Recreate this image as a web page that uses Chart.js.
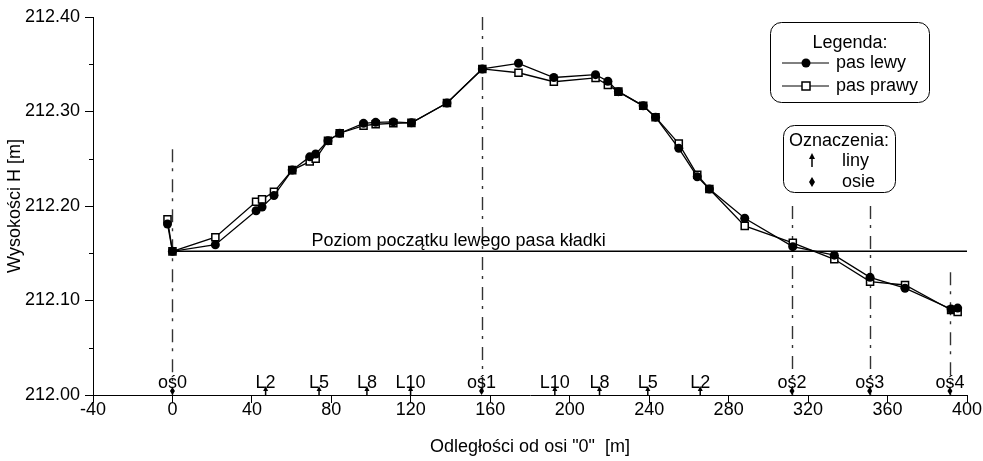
<!DOCTYPE html>
<html>
<head>
<meta charset="utf-8">
<script src="https://cdn.jsdelivr.net/npm/chart.js@4"></script>
<style>
  html, body { margin: 0; padding: 0; background: #ffffff; }
  #wrap { width: 983px; height: 461px; }
</style>
</head>
<body>
<div id="wrap"><canvas id="profil"></canvas></div>
<script>
const FONT = '"Liberation Sans", Arial, sans-serif';

// odległości od osi "0" [m]
const odleglosci = [-2.5, 0, 21.6, 42.1, 45.1, 51.1, 60.3, 69.1, 72.1, 78.3, 84.2, 96.2, 102.3, 111.2, 120.3,
    138.2, 156, 174.2, 192, 213, 219.2, 224.5, 237, 243.2, 254.9, 264.2, 270.3, 288.1, 312.3, 333.2,
    351.2, 368.8, 392, 395.3];
// wysokości H [m]
const pasLewy = [212.181, 212.152, 212.159, 212.195, 212.199, 212.211, 212.238, 212.252, 212.255, 212.269,
    212.277, 212.2875, 212.2885, 212.289, 212.288, 212.309, 212.345, 212.351, 212.336, 212.339, 212.332,
    212.321, 212.306, 212.294, 212.261, 212.231, 212.218, 212.187, 212.157, 212.148, 212.1245, 212.113,
    212.091, 212.092];
const pasPrawy = [212.186, 212.152, 212.167, 212.2045, 212.207, 212.215, 212.238, 212.247, 212.250, 212.269,
    212.277, 212.285, 212.2865, 212.2875, 212.288, 212.309, 212.345, 212.341, 212.3315, 212.3355, 212.328,
    212.321, 212.306, 212.294, 212.266, 212.233, 212.218, 212.179, 212.161, 212.1436, 212.12, 212.1164,
    212.090, 212.088];

// osie i liny
const osieX = [0, 155.6, 311.9, 351, 391.4];
const osieNazwy = ['oś0', 'oś1', 'oś2', 'oś3', 'oś4'];
const osieGora = [212.26, 212.40, 212.20, 212.20, 212.13];
const linyX = [46.9, 73.8, 97.9, 119.9, 192.5, 215, 239.3, 265.7];
const linyNazwy = ['L2', 'L5', 'L8', 'L10', 'L10', 'L8', 'L5', 'L2'];
const poziomLewego = 212.152;
const poziomOd = 0, poziomDo = 400, poziomTekstX = 70;
const yMinor = [212.05, 212.15, 212.25, 212.35];

const punkty = (xs, ys) => xs.map((x, i) => ({ x: x, y: ys[i] }));

const adnotacje = {
    id: 'adnotacje',
    beforeDatasetsDraw(chart) {
        const ctx = chart.ctx;
        const xs = chart.scales.x, ys = chart.scales.y;
        const y0 = ys.getPixelForValue(212.0);
        ctx.save();

        // osie - linie kreska-kropka
        ctx.strokeStyle = '#333';
        ctx.lineWidth = 1.4;
        ctx.setLineDash([13, 6, 3, 8]);
        osieX.forEach((x, i) => {
            const px = Math.round(xs.getPixelForValue(x)) + 0.5;
            ctx.beginPath();
            ctx.moveTo(px, ys.getPixelForValue(osieGora[i]));
            ctx.lineTo(px, y0);
            ctx.stroke();
        });
        ctx.setLineDash([]);

        // poziom początku lewego pasa
        const py = ys.getPixelForValue(poziomLewego);
        ctx.strokeStyle = '#000';
        ctx.lineWidth = 1.5;
        ctx.beginPath();
        ctx.moveTo(xs.getPixelForValue(poziomOd), py);
        ctx.lineTo(xs.getPixelForValue(poziomDo), py);
        ctx.stroke();
        ctx.fillStyle = '#000';
        ctx.font = '18px ' + FONT;
        ctx.textAlign = 'left';
        ctx.textBaseline = 'alphabetic';
        ctx.fillText('Poziom początku lewego pasa kładki', xs.getPixelForValue(poziomTekstX), py - 5);

        // opisy osi i lin
        ctx.textAlign = 'center';
        osieX.forEach((x, i) => {
            const px = xs.getPixelForValue(x);
            ctx.fillText(osieNazwy[i], px, y0 - 7);
            ctx.beginPath();
            ctx.moveTo(px, y0 - 8);
            ctx.lineTo(px + 2.5, y0 - 4);
            ctx.lineTo(px, y0);
            ctx.lineTo(px - 2.5, y0 - 4);
            ctx.closePath();
            ctx.fill();
        });
        linyX.forEach((x, i) => {
            const px = xs.getPixelForValue(x);
            ctx.fillText(linyNazwy[i], px, y0 - 7);
            ctx.lineWidth = 1.5;
            ctx.beginPath();
            ctx.moveTo(px, y0);
            ctx.lineTo(px, y0 - 5);
            ctx.stroke();
            ctx.beginPath();
            ctx.moveTo(px, y0 - 9);
            ctx.lineTo(px + 2.5, y0 - 4);
            ctx.lineTo(px - 2.5, y0 - 4);
            ctx.closePath();
            ctx.fill();
        });

        // drobne kreski osi Y
        ctx.lineWidth = 1;
        yMinor.forEach(v => {
            const p = Math.round(ys.getPixelForValue(v)) + 0.5;
            ctx.beginPath();
            ctx.moveTo(xs.left - 4, p);
            ctx.lineTo(xs.left, p);
            ctx.stroke();
        });
        ctx.restore();
    },
    afterDraw(chart) {
        const ctx = chart.ctx;
        ctx.save();
        ctx.strokeStyle = '#000';
        ctx.fillStyle = '#000';
        ctx.lineWidth = 1;

        // Legenda
        ctx.beginPath();
        ctx.roundRect(770.5, 22.5, 159, 80, 11);
        ctx.stroke();
        ctx.font = '18px ' + FONT;
        ctx.textBaseline = 'middle';
        ctx.textAlign = 'center';
        ctx.fillText('Legenda:', 850, 43);
        ctx.textAlign = 'left';
        ctx.fillText('pas lewy', 836, 63);
        ctx.fillText('pas prawy', 836, 86);
        ctx.beginPath();
        ctx.moveTo(782, 63); ctx.lineTo(829, 63);
        ctx.moveTo(782, 86); ctx.lineTo(829, 86);
        ctx.stroke();
        ctx.beginPath();
        ctx.arc(806, 63, 4.5, 0, Math.PI * 2);
        ctx.fill();
        ctx.fillStyle = '#fff';
        ctx.fillRect(802, 82, 8, 8);
        ctx.lineWidth = 1.5;
        ctx.strokeRect(802, 82, 8, 8);
        ctx.fillStyle = '#000';

        // Oznaczenia
        ctx.lineWidth = 1;
        ctx.beginPath();
        ctx.roundRect(783.5, 125.5, 112, 67, 11);
        ctx.stroke();
        ctx.textAlign = 'center';
        ctx.fillText('Oznaczenia:', 839, 141);
        ctx.textAlign = 'left';
        ctx.fillText('liny', 842, 161);
        ctx.fillText('osie', 842, 182);
        ctx.lineWidth = 1.5;
        ctx.beginPath();
        ctx.moveTo(812, 167); ctx.lineTo(812, 157);
        ctx.stroke();
        ctx.beginPath();
        ctx.moveTo(812, 153); ctx.lineTo(815, 159); ctx.lineTo(809, 159);
        ctx.closePath();
        ctx.fill();
        ctx.beginPath();
        ctx.moveTo(812, 177); ctx.lineTo(815, 182); ctx.lineTo(812, 187); ctx.lineTo(809, 182);
        ctx.closePath();
        ctx.fill();
        ctx.restore();
    }
};

new Chart(document.getElementById('profil'), {
    type: 'scatter',
    data: {
        datasets: [{
            label: 'pas lewy',
            data: punkty(odleglosci, pasLewy),
            showLine: true,
            borderColor: '#000',
            borderWidth: 1.3,
            pointStyle: 'circle',
            pointRadius: 4.5,
            pointBackgroundColor: '#000',
            pointBorderColor: '#000',
            pointBorderWidth: 0
        }, {
            label: 'pas prawy',
            data: punkty(odleglosci, pasPrawy),
            showLine: true,
            borderColor: '#000',
            borderWidth: 1.3,
            pointStyle: 'rect',
            pointRadius: 5,
            pointBackgroundColor: '#fff',
            pointBorderColor: '#000',
            pointBorderWidth: 1.5
        }]
    },
    options: {
        responsive: true,
        maintainAspectRatio: false,
        animation: false,
        layout: { padding: { left: 0, right: 16, top: 17, bottom: 0 } },
        plugins: {
            legend: { display: false },
            tooltip: { enabled: false }
        },
        scales: {
            x: {
                type: 'linear',
                min: -40,
                max: 400,
                afterFit: s => { s.height = 66; },
                ticks: {
                    stepSize: 40,
                    color: '#000',
                    padding: -4,
                    maxRotation: 0,
                    font: { family: FONT, size: 18 }
                },
                grid: { drawOnChartArea: false, tickLength: 8, color: '#000' },
                border: { color: '#000', width: 1 },
                title: {
                    display: true,
                    text: 'Odległości od osi "0"  [m]',
                    color: '#000',
                    font: { family: FONT, size: 18 },
                    padding: { top: 0, bottom: 3 }
                }
            },
            y: {
                type: 'linear',
                min: 212.0,
                max: 212.4,
                afterFit: s => { s.width = 93; },
                ticks: {
                    stepSize: 0.1,
                    color: '#000',
                    padding: 5,
                    font: { family: FONT, size: 18 },
                    callback: v => Number(v).toFixed(2)
                },
                grid: { drawOnChartArea: false, tickLength: 8, color: '#000' },
                border: { color: '#000', width: 1 },
                title: {
                    display: true,
                    text: 'Wysokości H [m]',
                    color: '#000',
                    font: { family: FONT, size: 18 },
                    padding: { top: 4, bottom: 0 }
                }
            }
        }
    },
    plugins: [adnotacje]
});
</script>
</body>
</html>
